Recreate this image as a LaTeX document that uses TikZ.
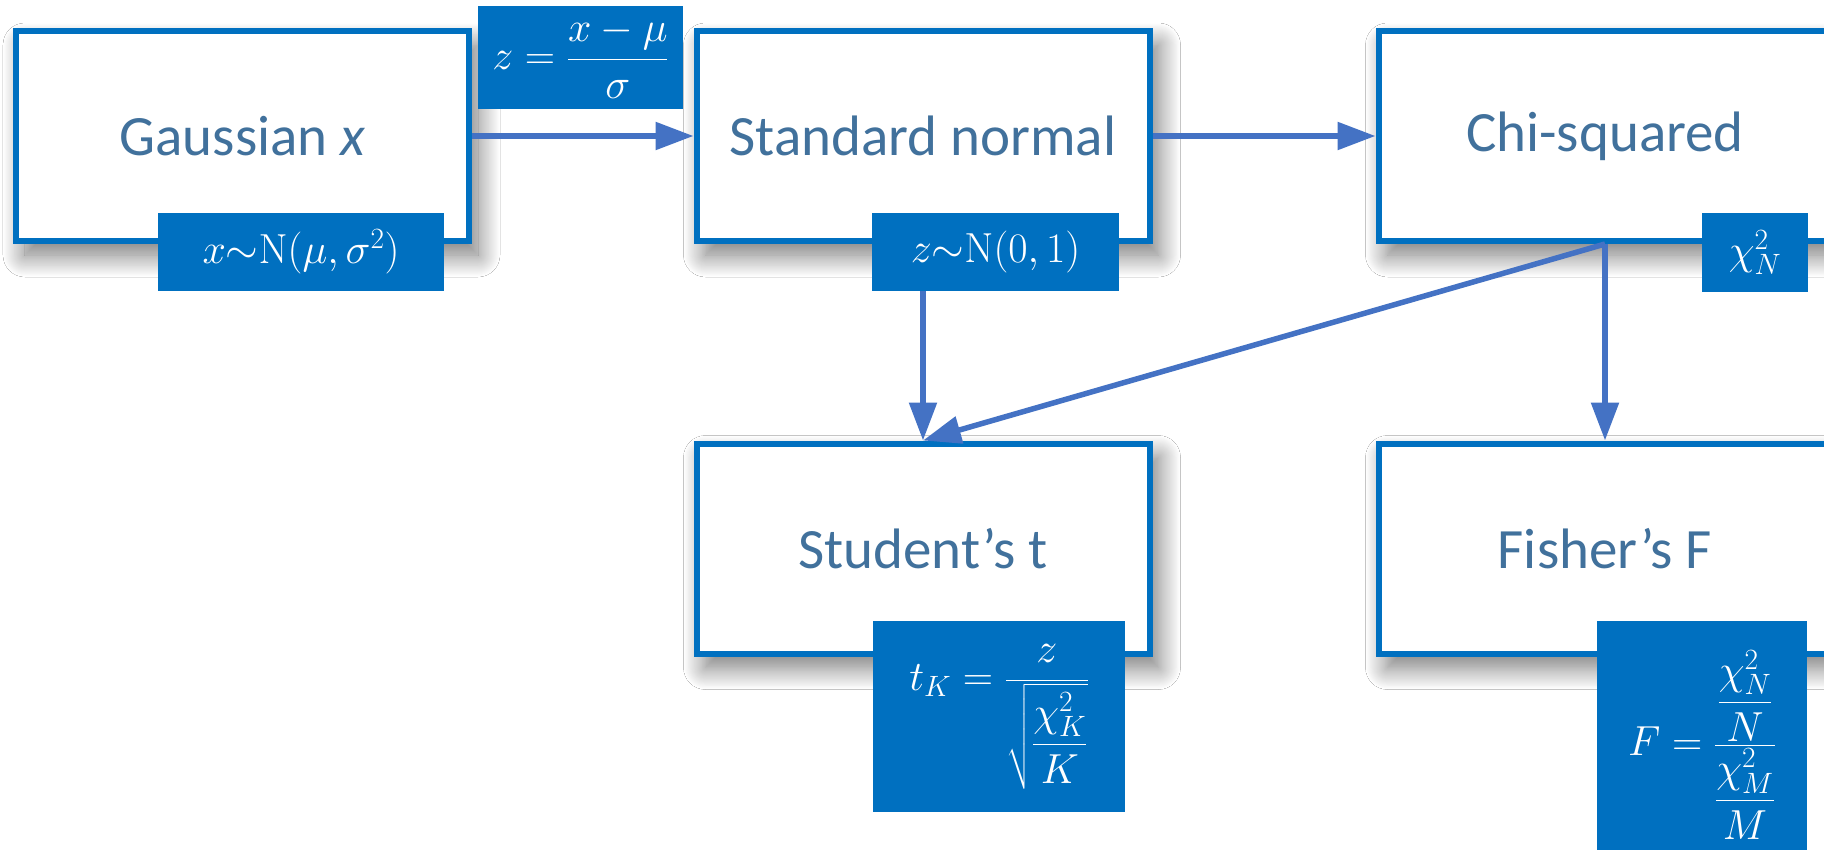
\RequirePackage{fix-cm}
\documentclass[tikz,border=0pt]{standalone}
\usepackage{amsmath}
\usepackage[no-math]{fontspec}
\setmainfont{Carlito}
\usetikzlibrary{arrows.meta,shadows.blur}
\definecolor{boxblue}{HTML}{0070C0}
\definecolor{arrowblue}{HTML}{4472C4}
\definecolor{textblue}{HTML}{41719C}
\begin{document}
\begin{tikzpicture}[x=1pt,y=-1pt,
  dbox/.style={draw=boxblue, line width=6pt, fill=white, minimum width=453pt, minimum height=210pt,
    inner sep=0pt, text=textblue, font=\fontsize{57}{68}\selectfont,
    blur shadow={shadow xshift=9pt, shadow yshift=-14pt, shadow blur radius=22pt, shadow opacity=55, shadow blur steps=24}},
  mlab/.style={fill=boxblue, text=white, inner sep=0pt, font=\fontsize{42}{50}\selectfont},
  conn/.style={draw=arrowblue, line width=5.5pt, -{Triangle[length=38pt,width=27pt]}}
]
\path[use as bounding box] (0,0) rectangle (1824,850);
\clip (0,0) rectangle (1824,850);
\fill[white] (0,0) rectangle (1824,850);

\node[dbox] (g) at (242.5,136) {Gaussian {\itshape x}};
\node[dbox] (s) at (923,136) {Standard normal};
\node[dbox] (c) at (1605,136) {Chi-squared};
\node[dbox] (t) at (923,548.5) {Student’s t};
\node[dbox] (f) at (1605,548.5) {Fisher’s F};

\draw[conn] (g.east) -- (s.west);
\draw[conn] (s.east) -- (c.west);
\draw[conn] (s.south) -- (t.north);
\draw[conn] (c.south) -- (t.north);
\draw[conn] (c.south) -- (f.north);

\node[mlab, minimum width=205pt, minimum height=103pt] (zl) at (580.5,57.5) {$z=\dfrac{x-\mu}{\sigma}$};
\node[mlab, minimum width=286pt, minimum height=78pt] (xl) at (301,252) {$x{\sim}\mathrm{N}(\mu,\sigma^2)$};
\node[mlab, minimum width=247pt, minimum height=78pt] (zn) at (995.5,252) {$z{\sim}\mathrm{N}(0,1)$};
\node[mlab, minimum width=106pt, minimum height=79pt] (cn) at (1755,252.5) {$\chi^2_N$};
\node[mlab, minimum width=252pt, minimum height=191pt] (tl) at (999,716.5) {$t_K=\dfrac{z}{\sqrt{\dfrac{\chi^2_K}{K}}}$};
\node[mlab, minimum width=210pt, minimum height=248pt] (fl) at (1702,745) {$F=\dfrac{\dfrac{\chi^2_N}{N}}{\dfrac{\chi^2_M}{M}}$};
\end{tikzpicture}
\end{document}
